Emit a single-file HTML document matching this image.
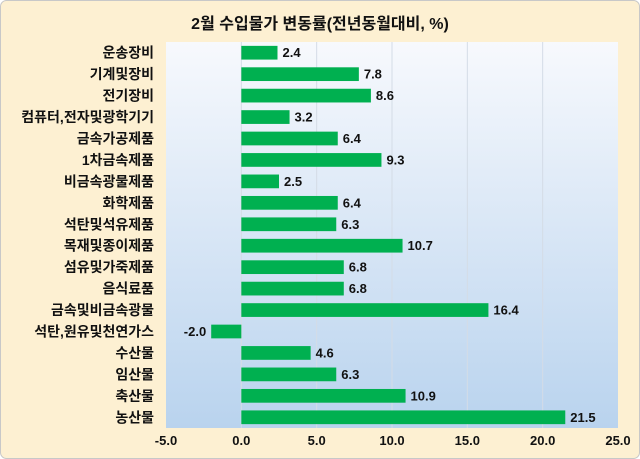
<!DOCTYPE html>
<html><head><meta charset="utf-8"><style>
body{margin:0;background:#fff}
svg{display:block;font-family:"Liberation Sans","Noto Sans CJK KR",sans-serif;font-weight:bold}
</style></head><body>
<svg width="640" height="459" viewBox="0 0 640 459">
<defs><linearGradient id="bg" x1="0" y1="0" x2="0" y2="1"><stop offset="0" stop-color="#f7f9fd"/><stop offset="1" stop-color="#b9d3ee"/></linearGradient></defs>
<rect x="0.5" y="0.5" width="639" height="458" rx="6" fill="#fdf0d2" stroke="#c8c8c8"/>
<text x="320" y="29" text-anchor="middle" font-size="16" fill="#111">2월 수입물가 변동률(전년동월대비, %)</text>
<rect x="166" y="42" width="452" height="386" fill="url(#bg)"/>
<g id="grid"></g><g id="bars"></g><g id="labels"></g>
</svg>
<script>
const categories=["운송장비","기계및장비","전기장비","컴퓨터,전자및광학기기","금속가공제품","1차금속제품","비금속광물제품","화학제품","석탄및석유제품","목재및종이제품","섬유및가죽제품","음식료품","금속및비금속광물","석탄,원유및천연가스","수산물","임산물","축산물","농산물"];
const values=[2.4,7.8,8.6,3.2,6.4,9.3,2.5,6.4,6.3,10.7,6.8,6.8,16.4,-2.0,4.6,6.3,10.9,21.5];
const ticks=[-5,0,5,10,15,20,25];
const NS="http://www.w3.org/2000/svg";
const x0=166,x1=618,y0=42,y1=428;
const xs=v=>x0+(v+5)/30*(x1-x0);
const band=(y1-y0)/categories.length;
const ys=i=>y0+band*i;
function mk(t,a,p){const e=document.createElementNS(NS,t);for(const k in a)e.setAttribute(k,a[k]);p.appendChild(e);return e;}
const G=document.getElementById('grid'),B=document.getElementById('bars'),L=document.getElementById('labels');
ticks.forEach(t=>{
 if(t>-5&&t<25){const l=mk('line',{x1:xs(t),x2:xs(t),y1:y0,y2:y1,stroke:'#d4dce6','stroke-width':1},G);
 
 }
 const tx=mk('text',{x:xs(t),y:445,'text-anchor':'middle','font-size':13,fill:'#111'},L);
 tx.textContent=t.toFixed(1);
 
 
});
categories.forEach((c,i)=>{
 const v=values[i],bh=band*0.64,by=ys(i)+(band-bh)/2;
 const r=mk('rect',{x:Math.min(xs(0),xs(v)),y:by,width:Math.abs(xs(v)-xs(0)),height:bh,fill:'#00b050'},B);
 
 
 const cy=ys(i)+band/2+5;
 const cl=mk('text',{x:154,y:cy,'text-anchor':'end','font-size':14,fill:'#111'},L);
 cl.textContent=c;
 
 
 const vl=mk('text',{x:v>=0?xs(v)+5:xs(v)-5,y:cy-0.5,'text-anchor':v>=0?'start':'end','font-size':13,fill:'#111'},L);
 vl.textContent=v.toFixed(1);
 
 
});
</script>
</body></html>
